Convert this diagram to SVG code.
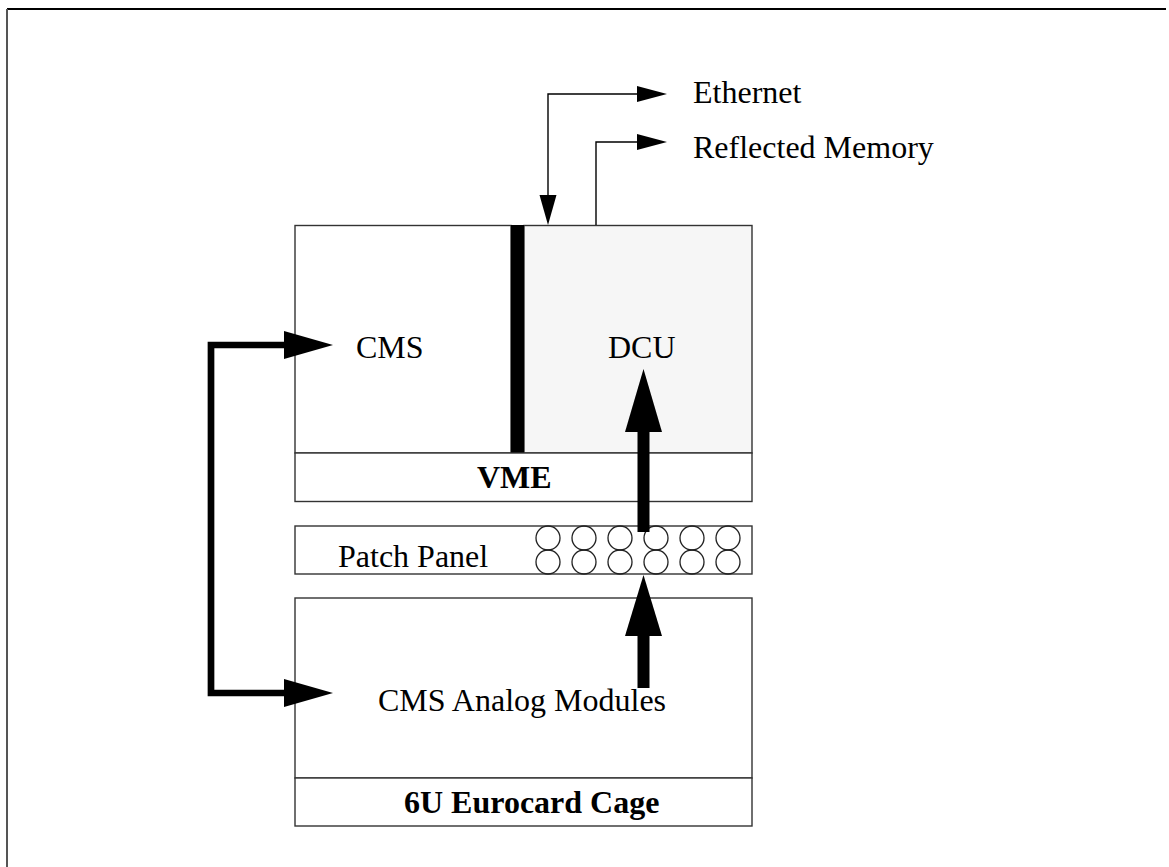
<svg xmlns="http://www.w3.org/2000/svg" width="1169" height="867" viewBox="0 0 1169 867">
<style>
.box{fill:#fff;stroke:#333;stroke-width:1.4}
.dcu{fill:#f6f6f6;stroke:#333;stroke-width:1.4}
.t{font-family:"Liberation Serif","Times New Roman",serif;font-size:32px;fill:#000}
.b{font-weight:bold}
.thin{fill:none;stroke:#000;stroke-width:1.4}
.thick{fill:none;stroke:#000;stroke-width:6.7}
.hole{fill:none;stroke:#222;stroke-width:1.3}
.head{fill:#000}
</style>
<rect width="1169" height="867" fill="#fff"/>
<g id="frame">
<line x1="7" y1="9" x2="1166" y2="9" stroke="#000" stroke-width="2"/>
<line x1="7" y1="9" x2="7" y2="867" stroke="#555" stroke-width="2"/>
</g>
<g id="cms">
<rect class="box" x="295" y="225.5" width="216" height="227.5"/>
<text class="t" x="356" y="358">CMS</text>
</g>
<g id="dcu">
<rect class="dcu" x="524" y="225.5" width="228" height="227.5"/>
<text class="t" x="608" y="358">DCU</text>
</g>
<g id="bus">
<rect x="511" y="225" width="13" height="228.5" fill="#000"/>
</g>
<g id="vme">
<rect class="box" x="295" y="453" width="457" height="48.5"/>
<text class="t b" x="477" y="488">VME</text>
</g>
<g id="patch">
<rect class="box" x="295" y="526" width="457" height="48"/>
<text class="t" x="338" y="567">Patch Panel</text>
<g class="hole">
<circle cx="548" cy="538" r="12"/><circle cx="548" cy="562" r="12"/>
<circle cx="584" cy="538" r="12"/><circle cx="584" cy="562" r="12"/>
<circle cx="620" cy="538" r="12"/><circle cx="620" cy="562" r="12"/>
<circle cx="656" cy="538" r="12"/><circle cx="656" cy="562" r="12"/>
<circle cx="692" cy="538" r="12"/><circle cx="692" cy="562" r="12"/>
<circle cx="728" cy="538" r="12"/><circle cx="728" cy="562" r="12"/>
</g>
</g>
<g id="analog">
<rect class="box" x="295" y="598" width="457" height="180"/>
<text class="t" x="378" y="711">CMS Analog Modules</text>
</g>
<g id="cage">
<rect class="box" x="295" y="778" width="457" height="48"/>
<text class="t b" x="404" y="813">6U Eurocard Cage</text>
</g>
<g id="ethernet"><text class="t" x="693" y="103">Ethernet</text></g>
<g id="reflected"><text class="t" x="693" y="158">Reflected Memory</text></g>
<g id="connectors">
<path class="thin" d="M548,196 V94 H638"/>
<polygon class="head" points="539.5,195 556.5,195 548,225"/>
<polygon class="head" points="637,86 637,102 667,94"/>
<path class="thin" d="M596,225 V142 H638"/>
<polygon class="head" points="637,134 637,150 667,142"/>
<path class="thick" d="M285,345 H211 V693 H285"/>
<polygon class="head" points="284,331 284,359 333,345"/>
<polygon class="head" points="284,679 284,707 333,693"/>
<rect class="head" x="637.5" y="431" width="12" height="101"/>
<polygon class="head" points="625,432 662,432 643.5,369"/>
<rect class="head" x="637.5" y="635" width="12" height="53"/>
<polygon class="head" points="625,636 662,636 643.5,575"/>
</g>
</svg>
